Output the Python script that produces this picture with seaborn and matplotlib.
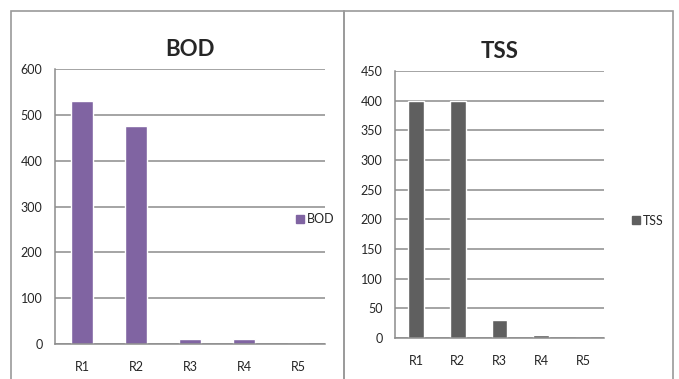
import numpy as np
import matplotlib
matplotlib.use("Agg")
from matplotlib import pyplot as plt
from matplotlib.patches import Rectangle
from matplotlib.lines import Line2D
import seaborn as sns

sns.set_style("white")
plt.rcParams['font.family'] = ['Lato', 'DejaVu Sans']

# data
categories = ["R1", "R2", "R3", "R4", "R5"]
bod = [530, 475, 10, 10, 0]
tss = [400, 400, 30, 5, 0]

bod_color = '#8064A2'
tss_color = '#5F5F5F'
grid_color = '#8C8C8C'

W, H = 679, 379
fig = plt.figure(figsize=(W / 100, H / 100), dpi=100)


def px_axes(x0, x1, ytop, ybot):
    return fig.add_axes([x0 / W, (H - ybot) / H, (x1 - x0) / W, (ybot - ytop) / H])


def style_axes(ax, ymax, ystep, title, label, color, leg_anchor):
    ax.set_xlim(-0.5, len(categories) - 0.5)
    ax.set_ylim(0, ymax)
    ax.set_yticks(np.arange(0, ymax + 1, ystep))
    ax.yaxis.grid(True, color=grid_color, lw=1.1)
    ax.set_axisbelow(True)
    for s in ['top', 'right']:
        ax.spines[s].set_visible(False)
    for s in ['left', 'bottom']:
        ax.spines[s].set_color(grid_color)
        ax.spines[s].set_linewidth(1.1)
    ax.set_xticks(np.arange(-0.5, len(categories)), minor=True)
    ax.tick_params(axis='x', which='major', length=0, pad=12, labelsize=9)
    ax.tick_params(axis='x', which='minor', length=4, color=grid_color, width=1.1)
    ax.tick_params(axis='y', length=4, color=grid_color, width=1.1, pad=5, labelsize=9)
    ax.set_xlabel('')
    ax.set_ylabel('')
    ax.set_title(title, fontsize=16, fontweight='bold', pad=9)
    handle = Line2D([], [], marker='s', color=color, ls='', markersize=6)
    ax.legend([handle], [label], loc='center left', bbox_to_anchor=leg_anchor,
              frameon=False, fontsize=9, handlelength=0.6, handletextpad=0.3)


ax1 = px_axes(55, 325, 69, 344)
sns.barplot(x=categories, y=bod, ax=ax1, color=bod_color, width=0.4, saturation=1)
style_axes(ax1, 600, 100, 'BOD', 'BOD', bod_color, (0.85, 0.455))

ax2 = px_axes(395, 604, 71, 338)
sns.barplot(x=categories, y=tss, ax=ax2, color=tss_color, width=0.38, saturation=1)
style_axes(ax2, 450, 50, 'TSS', 'TSS', tss_color, (1.08, 0.44))

# chart panel borders
for x0, x1 in [(11, 344), (344, 673)]:
    fig.add_artist(Rectangle((x0 / W, -0.1), (x1 - x0) / W, (H - 11) / H + 0.1,
                             transform=fig.transFigure, fill=False,
                             edgecolor='#9A9A9A', lw=1.2))

fig.savefig('out.png', dpi=100)
